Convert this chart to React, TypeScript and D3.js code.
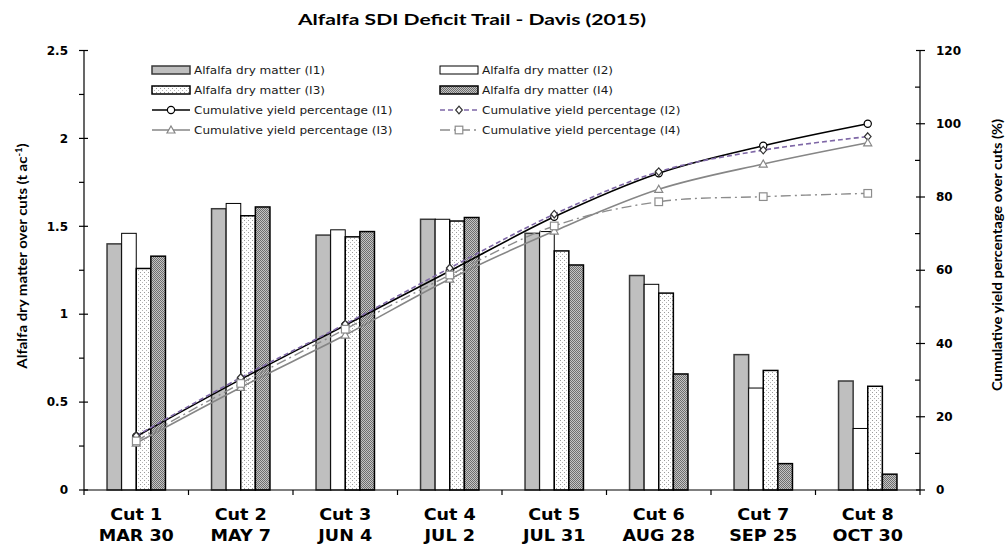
import React from "react";
import * as d3 from "d3";

const cuts = ["Cut 1", "Cut 2", "Cut 3", "Cut 4", "Cut 5", "Cut 6", "Cut 7", "Cut 8"];
const dates = ["MAR 30", "MAY 7", "JUN 4", "JUL 2", "JUL 31", "AUG 28", "SEP 25", "OCT 30"];

const dmI1 = [1.40, 1.60, 1.45, 1.54, 1.46, 1.22, 0.77, 0.62];
const dmI2 = [1.46, 1.63, 1.48, 1.54, 1.47, 1.17, 0.58, 0.35];
const dmI3 = [1.26, 1.56, 1.44, 1.53, 1.36, 1.12, 0.68, 0.59];
const dmI4 = [1.33, 1.61, 1.47, 1.55, 1.28, 0.66, 0.15, 0.09];

const cyI1 = [14.6, 30.2, 45.0, 59.8, 74.6, 86.5, 94.0, 100.0];
const cyI2 = [14.8, 30.7, 45.3, 60.6, 75.3, 86.9, 92.8, 96.5];
const cyI3 = [12.8, 28.0, 42.3, 57.6, 70.7, 82.1, 89.0, 94.8];
const cyI4 = [13.4, 29.1, 43.9, 58.7, 72.1, 78.7, 80.1, 81.0];

const leftTicks = [0, 0.5, 1, 1.5, 2, 2.5];
const leftMinor = [0.25, 0.75, 1.25, 1.75, 2.25];
const rightTicks = [0, 20, 40, 60, 80, 100, 120];
const rightMinor = [10, 30, 50, 70, 90, 110];

const barSeries = [
  { key: "I1", label: "Alfalfa dry matter (I1)", values: dmI1, fill: "#bfbfbf", stroke: "#3a3a3a", sw: 1.5 },
  { key: "I2", label: "Alfalfa dry matter (I2)", values: dmI2, fill: "#ffffff", stroke: "#000000", sw: 1 },
  { key: "I3", label: "Alfalfa dry matter (I3)", values: dmI3, fill: "url(#dots)", stroke: "#000000", sw: 1.5 },
  { key: "I4", label: "Alfalfa dry matter (I4)", values: dmI4, fill: "url(#checker)", stroke: "#000000", sw: 1.5 },
];

const lineSeries = [
  { key: "I1", label: "Cumulative yield percentage (I1)", values: cyI1, color: "#000000", dash: "", sw: 1.6, marker: "circle", mstroke: "#000000" },
  { key: "I2", label: "Cumulative yield percentage (I2)", values: cyI2, color: "#7e67a6", dash: "5,3", sw: 1.6, marker: "diamond", mstroke: "#333333" },
  { key: "I3", label: "Cumulative yield percentage (I3)", values: cyI3, color: "#868686", dash: "", sw: 1.6, marker: "triangle", mstroke: "#868686" },
  { key: "I4", label: "Cumulative yield percentage (I4)", values: cyI4, color: "#8c8c8c", dash: "10,4,2,4", sw: 1.4, marker: "square", mstroke: "#8c8c8c" },
];

const W = 1008;
const H = 546;
const X0 = 84;
const X1 = 920;
const Y0 = 490;
const Y1 = 50.5;

function Marker({ type, x, y, stroke }: { type: string; x: number; y: number; stroke: string }) {
  const common = { fill: "#ffffff", stroke, strokeWidth: 1.2 };
  if (type === "circle") return <circle cx={x} cy={y} r={3.6} {...common} />;
  if (type === "diamond")
    return <path d={`M${x},${y - 3.8}L${x + 3.3},${y}L${x},${y + 3.8}L${x - 3.3},${y}Z`} {...common} />;
  if (type === "triangle")
    return <path d={`M${x},${y - 4}L${x + 4},${y + 3}L${x - 4},${y + 3}Z`} {...common} />;
  return <rect x={x - 3.8} y={y - 3.8} width={7.6} height={7.6} {...common} />;
}

export default function App() {
  const xBand = d3.scaleBand<string>().domain(cuts).range([X0, X1]).paddingInner(0.441).paddingOuter(0.2205);
  const xSub = d3.scaleBand<string>().domain(barSeries.map((s) => s.key)).range([0, xBand.bandwidth()]);
  const yL = d3.scaleLinear().domain([0, 2.5]).range([Y0, Y1]);
  const yR = d3.scaleLinear().domain([0, 120]).range([Y0, Y1]);
  const cx = (c: string) => (xBand(c) as number) + xBand.bandwidth() / 2;
  const step = xBand.step();

  const lineGen = d3
    .line<number>()
    .x((_, i) => cx(cuts[i]))
    .y((d) => yR(d))
    .curve(d3.curveCardinal.tension(0));

  const font = "'DejaVu Sans', Verdana, sans-serif";
  const titleFont = "Lato, 'Open Sans', sans-serif";

  const legRows = [70, 90, 110, 130];
  const legCols = [152, 440];

  const legendItems: { kind: "bar" | "line"; s: any; col: number; row: number }[] = [
    { kind: "bar", s: barSeries[0], col: 0, row: 0 },
    { kind: "bar", s: barSeries[1], col: 1, row: 0 },
    { kind: "bar", s: barSeries[2], col: 0, row: 1 },
    { kind: "bar", s: barSeries[3], col: 1, row: 1 },
    { kind: "line", s: lineSeries[0], col: 0, row: 2 },
    { kind: "line", s: lineSeries[1], col: 1, row: 2 },
    { kind: "line", s: lineSeries[2], col: 0, row: 3 },
    { kind: "line", s: lineSeries[3], col: 1, row: 3 },
  ];

  return (
    <svg
      width={W}
      height={H}
      viewBox={`0 0 ${W} ${H}`}
      style={{ position: "absolute", left: 0, top: 0, background: "#ffffff" }}
    >
      <defs>
        <pattern id="dots" width="4" height="4" patternUnits="userSpaceOnUse">
          <rect width="4" height="4" fill="#ffffff" />
          <rect x="0" y="0" width="1" height="1" fill="#9a9a9a" />
          <rect x="2" y="2" width="1" height="1" fill="#b5b5b5" />
        </pattern>
        <pattern id="checker" width="2" height="2" patternUnits="userSpaceOnUse">
          <rect width="2" height="2" fill="#c4c4c4" />
          <rect x="0" y="0" width="1" height="1" fill="#6e6e6e" />
          <rect x="1" y="1" width="1" height="1" fill="#6e6e6e" />
        </pattern>
      </defs>
      <rect width={W} height={H} fill="#ffffff" />

      {/* Title */}
      <text
        x={298}
        y={25}
        fontFamily={titleFont}
        fontWeight="bold"
        fontSize={15}
        textLength={348}
        lengthAdjust="spacingAndGlyphs"
        fill="#000"
      >
        Alfalfa SDI Deficit Trail - Davis (2015)
      </text>

      {/* Bars */}
      {cuts.map((c, i) => (
        <g key={c}>
          {barSeries.map((s) => (
            <rect
              key={s.key}
              x={(xBand(c) as number) + (xSub(s.key) as number)}
              y={yL(s.values[i])}
              width={xSub.bandwidth()}
              height={Y0 - yL(s.values[i])}
              fill={s.fill}
              stroke={s.stroke}
              strokeWidth={s.sw}
            />
          ))}
        </g>
      ))}

      {/* Lines */}
      {lineSeries.map((s) => (
        <g key={s.key}>
          <path d={lineGen(s.values) || ""} fill="none" stroke={s.color} strokeWidth={s.sw} strokeDasharray={s.dash} />
          {s.values.map((v, i) => (
            <Marker key={i} type={s.marker} x={cx(cuts[i])} y={yR(v)} stroke={s.mstroke} />
          ))}
        </g>
      ))}

      {/* Left axis */}
      <line x1={X0} x2={X0} y1={Y0} y2={Y1} stroke="#000" strokeWidth={1.2} />
      {leftTicks.map((t) => (
        <g key={t}>
          <line x1={X0 - 5} x2={X0 + 4} y1={yL(t)} y2={yL(t)} stroke="#000" strokeWidth={1.2} />
          <text x={68} y={yL(t)} dy="0.35em" textAnchor="end" fontFamily={font} fontWeight="bold" fontSize={12}>
            {t}
          </text>
        </g>
      ))}
      {leftMinor.map((t) => (
        <line key={t} x1={X0 - 5} x2={X0} y1={yL(t)} y2={yL(t)} stroke="#000" strokeWidth={1.2} />
      ))}

      {/* Right axis */}
      <line x1={X1} x2={X1} y1={Y0} y2={Y1} stroke="#000" strokeWidth={1.2} />
      {rightTicks.map((t) => (
        <g key={t}>
          <line x1={X1 - 4} x2={X1 + 5} y1={yR(t)} y2={yR(t)} stroke="#000" strokeWidth={1.2} />
          <text x={936} y={yR(t)} dy="0.35em" textAnchor="start" fontFamily={font} fontWeight="bold" fontSize={12}>
            {t}
          </text>
        </g>
      ))}
      {rightMinor.map((t) => (
        <line key={t} x1={X1 - 5} x2={X1} y1={yR(t)} y2={yR(t)} stroke="#000" strokeWidth={1.2} />
      ))}

      {/* X axis */}
      <line x1={X0} x2={X1} y1={Y0} y2={Y0} stroke="#000" strokeWidth={1.2} />
      {d3.range(cuts.length + 1).map((k) => (
        <line key={k} x1={X0 + k * step} x2={X0 + k * step} y1={Y0} y2={Y0 + 5} stroke="#000" strokeWidth={1.2} />
      ))}
      {cuts.map((c, i) => (
        <g key={c}>
          <text
            transform={`translate(${cx(c)},520) scale(1.1,1)`}
            textAnchor="middle"
            fontFamily={font}
            fontWeight="bold"
            fontSize={16}
          >
            {c}
          </text>
          <text
            transform={`translate(${cx(c)},541) scale(1.1,1)`}
            textAnchor="middle"
            fontFamily={font}
            fontWeight="bold"
            fontSize={16}
          >
            {dates[i]}
          </text>
        </g>
      ))}

      {/* Axis titles */}
      <text
        transform={`translate(27,256) rotate(-90) scale(1.07,1)`}
        textAnchor="middle"
        fontFamily={titleFont}
        fontWeight="bold"
        fontSize={14}
      >
        Alfalfa dry matter over cuts (t ac
        <tspan dy={-5} fontSize={9}>-1</tspan>
        <tspan dy={5}>)</tspan>
      </text>
      <text
        transform={`translate(1002,255) rotate(-90) scale(1.05,1)`}
        textAnchor="middle"
        fontFamily={titleFont}
        fontWeight="bold"
        fontSize={14}
      >
        Cumulative yield percentage over cuts (%)
      </text>

      {/* Legend */}
      {legendItems.map((it, idx) => {
        const x = legCols[it.col];
        const y = legRows[it.row];
        const s = it.s;
        return (
          <g key={idx}>
            {it.kind === "bar" ? (
              <rect x={x} y={y - 4} width={38} height={8} fill={s.fill} stroke={s.stroke} strokeWidth={s.sw} />
            ) : (
              <>
                <line x1={x} x2={x + 38} y1={y} y2={y} stroke={s.color} strokeWidth={s.sw} strokeDasharray={s.dash} />
                <Marker type={s.marker} x={x + 19} y={y} stroke={s.mstroke} />
              </>
            )}
            <text
              transform={`translate(${x + 42},${y}) scale(1.15,1)`}
              dy="0.35em"
              fontFamily={font}
              fontSize={10.5}
              fill="#1a1a1a"
            >
              {s.label}
            </text>
          </g>
        );
      })}
    </svg>
  );
}
